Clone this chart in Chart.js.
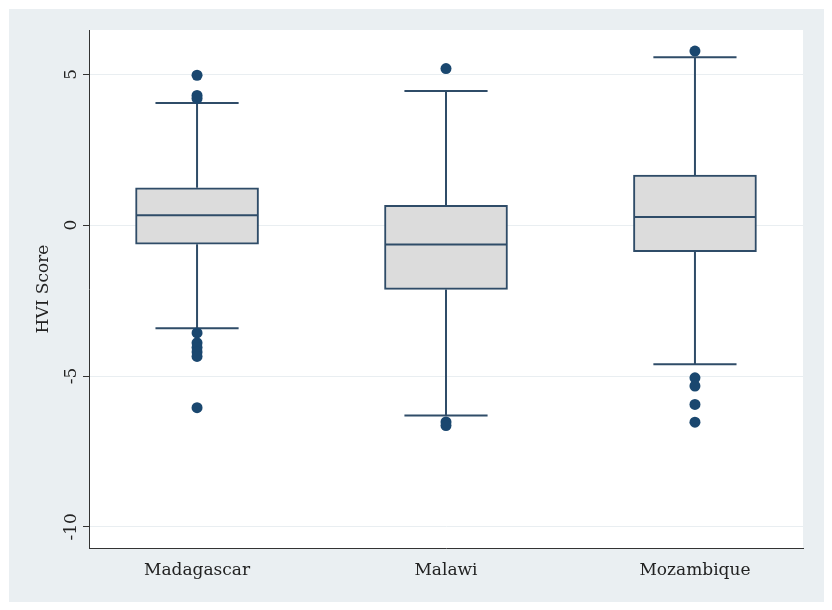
<!DOCTYPE html>
<html>
<head>
<meta charset="utf-8">
<script src="https://cdn.jsdelivr.net/npm/chart.js@4/dist/chart.umd.min.js"></script>
<style>
  html, body { margin: 0; padding: 0; background: #fff; }
</style>
</head>
<body>
<canvas id="chart" width="832" height="610"></canvas>
<script>
// data
const countries = ["Madagascar", "Malawi", "Mozambique"];
const q1 = [-0.63, -2.13, -0.88];
const median = [0.33, -0.64, 0.27];
const q3 = [1.24, 0.66, 1.66];
const whiskerLow = [-3.42, -6.31, -4.61];
const whiskerHigh = [4.05, 4.45, 5.57];
const outliers = [
  [4.97, 4.3, 4.2, -3.57, -3.9, -4.05, -4.2, -4.35, -6.05],
  [5.19, -6.52, -6.64],
  [5.77, -5.06, -5.33, -5.94, -6.53]
];
const yTicks = [-10, -5, 0, 5];

const lineColor = "#2f4c68";
const dotColor = "#1a476f";
const serif = "'DejaVu Serif', serif";

const positions = countries.map((c, i) => i + 1);

const boxData = positions.map((x, i) => ({ x: x, y: [q1[i], q3[i]] }));
const outlierData = [];
outliers.forEach((list, i) => {
  list.forEach(v => outlierData.push({ x: positions[i], y: v }));
});

// background panel + white plot region
const panelPlugin = {
  id: "panel",
  beforeDraw(chart) {
    const { ctx, chartArea } = chart;
    ctx.save();
    ctx.fillStyle = "#ffffff";
    ctx.fillRect(0, 0, chart.width, chart.height);
    ctx.fillStyle = "#eaeff2";
    ctx.fillRect(9, 9, 815, 593);
    ctx.fillStyle = "#ffffff";
    ctx.fillRect(chartArea.left, chartArea.top, chartArea.right - chartArea.left, chartArea.bottom - chartArea.top);
    ctx.restore();
  }
};

// whiskers, caps, medians and rotated y labels
const boxPlugin = {
  id: "boxparts",
  beforeDatasetsDraw(chart) {
    const { ctx } = chart;
    const xs = chart.scales.x, ys = chart.scales.y;
    ctx.save();
    ctx.strokeStyle = lineColor;
    ctx.lineWidth = 2;
    positions.forEach((p, i) => {
      const x = xs.getPixelForValue(p);
      const capL = xs.getPixelForValue(p - 0.167);
      const capR = xs.getPixelForValue(p + 0.167);
      ctx.beginPath();
      ctx.moveTo(x, ys.getPixelForValue(q3[i]));
      ctx.lineTo(x, ys.getPixelForValue(whiskerHigh[i]));
      ctx.moveTo(x, ys.getPixelForValue(q1[i]));
      ctx.lineTo(x, ys.getPixelForValue(whiskerLow[i]));
      ctx.moveTo(capL, ys.getPixelForValue(whiskerHigh[i]));
      ctx.lineTo(capR, ys.getPixelForValue(whiskerHigh[i]));
      ctx.moveTo(capL, ys.getPixelForValue(whiskerLow[i]));
      ctx.lineTo(capR, ys.getPixelForValue(whiskerLow[i]));
      ctx.stroke();
    });
    ctx.restore();
  },
  afterDatasetsDraw(chart) {
    const { ctx } = chart;
    const ys = chart.scales.y;
    const bars = chart.getDatasetMeta(0).data;
    ctx.save();
    ctx.strokeStyle = lineColor;
    ctx.lineWidth = 2;
    bars.forEach((bar, i) => {
      const half = bar.width / 2;
      const y = ys.getPixelForValue(median[i]);
      ctx.beginPath();
      ctx.moveTo(bar.x - half + 1, y);
      ctx.lineTo(bar.x + half - 1, y);
      ctx.stroke();
    });
    ctx.restore();
  },
  afterDraw(chart) {
    const { ctx } = chart;
    const ys = chart.scales.y;
    ctx.save();
    ctx.fillStyle = "#222";
    ctx.font = "17px " + serif;
    ctx.textAlign = "center";
    ctx.textBaseline = "middle";
    ys.ticks.forEach(t => {
      const y = ys.getPixelForValue(t.value);
      ctx.save();
      ctx.translate(72, y);
      ctx.rotate(-Math.PI / 2);
      ctx.fillText(String(t.value), 0, 0);
      ctx.restore();
    });
    ctx.restore();
  }
};

new Chart(document.getElementById("chart"), {
  data: {
    datasets: [
      {
        type: "bar",
        data: boxData,
        backgroundColor: "#dcdcdc",
        borderColor: lineColor,
        borderWidth: 2,
        borderSkipped: false,
        barThickness: 123
      },
      {
        type: "scatter",
        data: outlierData,
        pointRadius: 5.5,
        pointHoverRadius: 5.5,
        backgroundColor: dotColor,
        borderColor: dotColor,
        borderWidth: 0
      }
    ]
  },
  options: {
    responsive: false,
    animation: false,
    layout: { padding: { top: 30, right: 29, left: 0, bottom: 0 } },
    plugins: {
      legend: { display: false },
      tooltip: { enabled: false }
    },
    scales: {
      x: {
        type: "linear",
        offset: false,
        min: 0.566,
        max: 3.434,
        afterBuildTicks(scale) {
          scale.ticks = positions.map(v => ({ value: v }));
        },
        afterFit(scale) { scale.height = 62; },
        grid: { display: false, drawTicks: false, offset: false },
        border: { display: true, color: "#333", width: 1 },
        ticks: {
          padding: 12,
          color: "#222",
          font: { family: serif, size: 17 },
          callback: (v) => countries[v - 1] || ""
        }
      },
      y: {
        type: "linear",
        min: -10.7,
        max: 6.47,
        afterBuildTicks(scale) {
          scale.ticks = yTicks.map(v => ({ value: v }));
        },
        afterFit(scale) { scale.width = 89; },
        grid: {
          color: "#e9eef1",
          lineWidth: 1,
          drawTicks: true,
          tickLength: 6,
          tickColor: "#333"
        },
        border: { display: true, color: "#333", width: 1 },
        ticks: { display: false },
        title: {
          display: true,
          text: "HVI Score",
          color: "#222",
          font: { family: serif, size: 17 },
          padding: { top: 33, bottom: 0 }
        }
      }
    }
  },
  plugins: [panelPlugin, boxPlugin]
});
</script>
</body>
</html>
